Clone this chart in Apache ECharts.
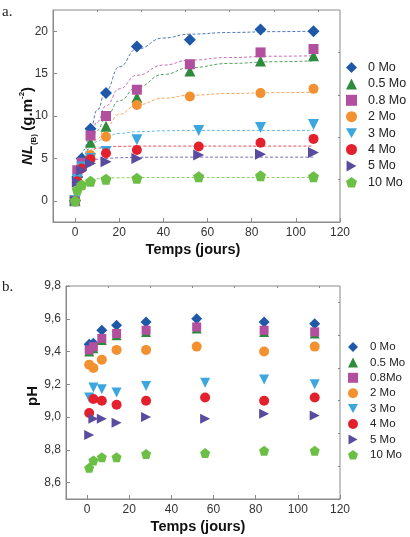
<!DOCTYPE html>
<html><head><meta charset="utf-8">
<script src="https://cdn.jsdelivr.net/npm/echarts@6/dist/echarts.min.js"></script>
<style>html,body{margin:0;padding:0;background:#fff}#c{width:410px;height:537px}</style>
</head><body><div id="c"></div>
<script>
// ---------- DATA ----------
const seriesNamesA = ['0 Mo','0.5 Mo','0.8 Mo','2 Mo','3 Mo','4 Mo','5 Mo','10 Mo'];
const seriesNamesB = ['0 Mo','0.5 Mo','0.8Mo','2 Mo','3 Mo','4 Mo','5 Mo','10 Mo'];
// sampling times (days)
const tA1 = [0, 1, 3, 7, 14, 28, 52, 84, 108];
const tA2 = [0, 1, 3, 7, 14, 28, 56, 84, 108];
const tB1 = [1, 3, 7, 14, 28, 52, 84, 108];
const tB2 = [1, 3, 7, 14, 28, 56, 84, 108];
// panel a : NL(B) (g.m-2)
const nl0   = [0, 2.8, 5.0, 8.5, 12.7, 18.2, 19.0, 20.2, 20.0];
const nl05  = [0, 2.6, 4.2, 6.9, 8.8, 12.2, 15.3, 16.5, 17.1];
const nl08  = [0, 3.6, 4.5, 7.7, 10.0, 13.1, 16.1, 17.5, 17.9];
const nl2   = [0, 2.4, 4.0, 5.4, 7.55, 11.3, 12.3, 12.7, 13.2];
const nl3   = [0, 2.5, 4.0, 5.0, 5.8, 7.2, 8.3, 8.65, 9.0];
const nl4   = [0, 2.3, 3.8, 4.9, 5.6, 6.0, 6.4, 6.85, 7.3];
const nl5   = [0, 2.2, 3.6, 4.4, 4.6, 5.0, 5.4, 5.5, 5.7];
const nl10  = [0, 1.3, 1.9, 2.3, 2.55, 2.65, 2.85, 2.95, 2.85];
// fitted curves (dashed lines)
const fitT  = [2, 4, 7, 10, 14, 20, 28, 40, 52, 70, 90, 108];
const fit0  = [3.6, 6.0, 8.5, 10.7, 13.0, 15.8, 17.9, 19.2, 19.65, 19.85, 19.95, 20.0];
const fit05 = [3.0, 4.9, 6.8, 8.3, 9.9, 11.8, 13.4, 14.9, 15.7, 16.2, 16.4, 16.5];
const fit08 = [3.4, 5.4, 7.6, 9.3, 11.2, 13.2, 14.8, 16.0, 16.6, 16.9, 17.05, 17.1];
const fit2  = [2.8, 4.4, 6.0, 7.3, 8.7, 10.2, 11.3, 12.1, 12.45, 12.65, 12.75, 12.8];
const fit3  = [3.3, 5.0, 6.3, 7.0, 7.6, 7.95, 8.15, 8.25, 8.3, 8.3, 8.3, 8.3];
const fit4  = [3.2, 4.9, 5.9, 6.2, 6.35, 6.42, 6.45, 6.45, 6.45, 6.45, 6.45, 6.45];
const fit5  = [2.9, 4.1, 4.7, 4.9, 5.0, 5.08, 5.12, 5.15, 5.15, 5.15, 5.15, 5.15];
const fit10 = [1.6, 2.1, 2.45, 2.6, 2.68, 2.72, 2.74, 2.75, 2.75, 2.75, 2.75, 2.75];
// panel b : pH
const ph0   = [9.445, 9.45, 9.53, 9.56, 9.58, 9.60, 9.58, 9.57];
const ph05  = [9.40, 9.42, 9.47, 9.50, 9.52, 9.54, 9.52, 9.51];
const ph08  = [9.41, 9.43, 9.48, 9.51, 9.53, 9.55, 9.53, 9.52];
const ph2   = [9.32, 9.30, 9.35, 9.41, 9.41, 9.43, 9.40, 9.43];
const ph3   = [9.12, 9.18, 9.17, 9.15, 9.19, 9.21, 9.23, 9.20];
const ph4   = [9.025, 9.11, 9.10, 9.075, 9.10, 9.12, 9.10, 9.12];
const ph5   = [8.89, 8.99, 8.99, 8.965, 9.00, 8.99, 9.02, 9.01];
const ph10  = [8.69, 8.735, 8.755, 8.755, 8.775, 8.78, 8.795, 8.795];
// ticks
const xTicks = [0, 20, 40, 60, 80, 100, 120];
const xMinor = [10, 30, 50, 70, 90, 110];
const yTicksA = [0, 5, 10, 15, 20];
const yMinorA = [2.5, 7.5, 12.5, 17.5];
const yTicksB = [8.6, 8.8, 9.0, 9.2, 9.4, 9.6, 9.8];
const yMinorB = [8.7, 8.9, 9.1, 9.3, 9.5, 9.7];

// ---------- STYLE ----------
const colors = ['#1f58a8','#2e8b3c','#b34f9f','#f39030','#3ca7de','#e3202b','#5a4b9f','#6bbf44'];
const PENT = 'path://M5,0 L9.76,3.45 L7.94,9.05 L2.06,9.05 L0.24,3.45 Z';
const TDOWN = 'path://M0,0 L10,0 L5,9 Z';
const TRIGHT = 'path://M0,0 L9,5 L0,10 Z';
const symbols = ['diamond','triangle','rect','circle',TDOWN,'circle',TRIGHT,PENT];
const sizesA = [12,11,10,10,11,10,11,11];
const sizesB = [11,10,9,10,10,10,10,10];

const nlVals = [nl0,nl05,nl08,nl2,nl3,nl4,nl5,nl10];
const fitVals = [fit0,fit05,fit08,fit2,fit3,fit4,fit5,fit10];
const phVals = [ph0,ph05,ph08,ph2,ph3,ph4,ph5,ph10];
const zip = (t, v) => t.map((x, i) => [x, v[i]]);

const FONT = '"Liberation Sans", Arial, sans-serif';
const axisGray = '#8a8a8a';

const series = [];
fitVals.forEach((v, i) => {
  series.push({
    name: 'fit' + i, type: 'line', xAxisIndex: 0, yAxisIndex: 0,
    data: zip(fitT, v), smooth: true, smoothMonotone: 'x', showSymbol: false, silent: true,
    lineStyle: { color: colors[i], width: 1, type: [3, 2], opacity: 0.8 }, z: 1
  });
});
nlVals.forEach((v, i) => {
  series.push({
    name: seriesNamesA[i], type: 'scatter', xAxisIndex: 0, yAxisIndex: 0,
    data: zip(i < 4 ? tA1 : tA2, v), symbol: symbols[i], symbolSize: sizesA[i],
    itemStyle: { color: colors[i], opacity: 1 }, z: 3
  });
});
phVals.forEach((v, i) => {
  series.push({
    name: seriesNamesB[i], type: 'scatter', xAxisIndex: 2, yAxisIndex: 2,
    data: zip(i < 4 ? tB1 : tB2, v), symbol: symbols[i], symbolSize: sizesB[i],
    itemStyle: { color: colors[i], opacity: 1 }, z: 3
  });
});

function mainX(grid, labelMargin) {
  return {
    type: 'value', gridIndex: grid, min: -10, max: 120,
    axisLine: { show: true, onZero: false, lineStyle: { color: axisGray, width: 1 } },
    axisTick: { show: true, inside: true, length: 4, customValues: xTicks, lineStyle: { color: axisGray } },
    axisLabel: { customValues: xTicks, margin: labelMargin, fontSize: 12, color: '#333', fontFamily: FONT },
    splitLine: { show: false }
  };
}
function minorAxis(grid, vals, min, max) {
  return {
    type: 'value', gridIndex: grid, min: min, max: max,
    axisLine: { show: false, onZero: false },
    axisTick: { show: true, inside: true, length: 2, customValues: vals, lineStyle: { color: axisGray } },
    axisLabel: { show: false }, splitLine: { show: false }
  };
}
const fmtB = v => v.toFixed(1).replace('.', ',');

const option = {
  animation: false,
  backgroundColor: '#fff',
  grid: [
    { left: 53, top: 10, width: 287, height: 212, show: true, borderColor: axisGray, borderWidth: 1, containLabel: false },
    { left: 66, top: 286, width: 274, height: 213, show: true, borderColor: axisGray, borderWidth: 1, containLabel: false }
  ],
  xAxis: [
    mainX(0, 5),
    minorAxis(0, xMinor, -10, 120),
    mainX(1, 5),
    minorAxis(1, xMinor, -10, 120)
  ],
  yAxis: [
    {
      type: 'value', gridIndex: 0, min: -2.5, max: 22.5,
      axisLine: { show: true, onZero: false, lineStyle: { color: axisGray } },
      axisTick: { show: true, inside: true, length: 4, customValues: yTicksA, lineStyle: { color: axisGray } },
      axisLabel: { customValues: yTicksA, margin: 5, fontSize: 12, color: '#333', fontFamily: FONT },
      splitLine: { show: false }
    },
    minorAxis(0, yMinorA, -2.5, 22.5),
    {
      type: 'value', gridIndex: 1, min: 8.5, max: 9.8,
      axisLine: { show: true, onZero: false, lineStyle: { color: axisGray } },
      axisTick: { show: true, inside: true, length: 4, customValues: yTicksB, lineStyle: { color: axisGray } },
      axisLabel: { customValues: yTicksB, margin: 5, fontSize: 12, color: '#333', fontFamily: FONT, formatter: fmtB },
      splitLine: { show: false }
    },
    minorAxis(1, yMinorB, 8.5, 9.8)
  ],
  legend: [
    {
      data: seriesNamesA, orient: 'vertical', left: 346, top: 61, padding: 0,
      itemWidth: 11, itemHeight: 11, itemGap: 3.4, selectedMode: false, symbolKeepAspect: true,
      textStyle: { fontSize: 12.5, color: '#222', fontFamily: FONT, padding: [0, 0, 0, 6] }
    },
    {
      data: seriesNamesB,
      orient: 'vertical', left: 348, top: 341, padding: 0,
      itemWidth: 10, itemHeight: 10, itemGap: 3.4, selectedMode: false, symbolKeepAspect: true,
      textStyle: { fontSize: 11.5, color: '#222', fontFamily: FONT, padding: [0, 0, 0, 7] }
    }
  ],
  graphic: [
    { type: 'text', left: 2, top: 5, style: { text: 'a.', font: '15px "Liberation Serif", serif', fill: '#222' } },
    { type: 'text', left: 2, top: 280, style: { text: 'b.', font: '15px "Liberation Serif", serif', fill: '#222' } },
    { type: 'text', x: 193, y: 250, style: { text: 'Temps (jours)', font: 'bold 14.5px "Liberation Sans", Arial, sans-serif', fill: '#111', align: 'center', verticalAlign: 'middle' } },
    { type: 'text', x: 198, y: 527, style: { text: 'Temps (jours)', font: 'bold 14.5px "Liberation Sans", Arial, sans-serif', fill: '#111', align: 'center', verticalAlign: 'middle' } },
    { type: 'text', x: 33, y: 396, rotation: Math.PI / 2, style: { text: 'pH', font: 'bold 15px "Liberation Sans", Arial, sans-serif', fill: '#111', align: 'center', verticalAlign: 'middle' } },
    { type: 'text', x: 28, y: 126, rotation: Math.PI / 2,
      style: {
        text: '{nl|NL}{sub|(B)} {u|(g.m}{sup|-2}{u|)}',
        align: 'center', verticalAlign: 'middle', fill: '#111',
        rich: {
          nl: { fontFamily: FONT, fontSize: 15, fontWeight: 'bold', fontStyle: 'italic', lineHeight: 20, fill: '#111' },
          sub: { fontFamily: FONT, fontSize: 8, fontWeight: 'bold', lineHeight: 8, verticalAlign: 'bottom', fill: '#111' },
          u: { fontFamily: FONT, fontSize: 15, fontWeight: 'bold', lineHeight: 20, fill: '#111' },
          sup: { fontFamily: FONT, fontSize: 8, fontWeight: 'bold', lineHeight: 8, verticalAlign: 'top', fill: '#111' }
        }
      }
    }
  ],
  series: series
};
const chart = echarts.init(document.getElementById('c'), null, { renderer: 'canvas' });
chart.setOption(option);
</script>
</body></html>
